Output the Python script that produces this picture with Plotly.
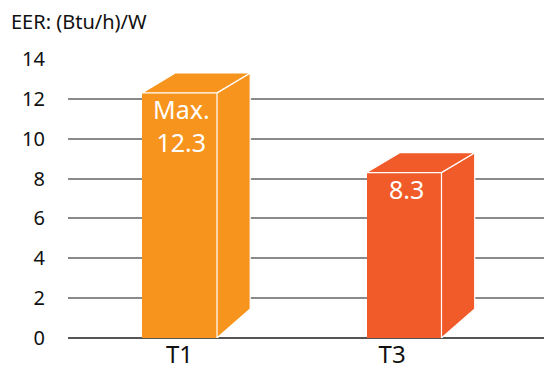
import plotly.graph_objects as go

categories = ["T1", "T3"]
eer_values = [12.3, 8.3]
bar_labels = ["Max.<br>12.3", "8.3"]
bar_colors = ["#F7941D", "#F15A29"]
y_ticks = [0, 2, 4, 6, 8, 10, 12, 14]
y_title = "EER: (Btu/h)/W"

FONT = "Noto Sans, Lato, sans-serif"
positions = list(range(len(categories)))
bar_w = 0.334
dx = 0.148
dy = 1.0
side_bottom = 1.46
tick_shift = [0.0, -0.053]

fig = go.Figure()

for i, (cat, v, col) in enumerate(zip(categories, eer_values, bar_colors)):
    x0 = positions[i] - bar_w / 2
    x1 = positions[i] + bar_w / 2
    # front face
    fig.add_trace(go.Bar(x=[positions[i]], y=[v], width=[bar_w],
                         marker=dict(color=col, line=dict(width=0)),
                         hoverinfo="skip", showlegend=False))
    # side face
    fig.add_trace(go.Scatter(
        x=[x1, x1, x1 + dx, x1 + dx, x1],
        y=[0, v, v + dy, side_bottom, 0],
        fill="toself", fillcolor=col, mode="lines",
        line=dict(color="white", width=1.2),
        hoverinfo="skip", showlegend=False))
    # top face
    fig.add_trace(go.Scatter(
        x=[x0, x0 + dx, x1 + dx, x1, x0],
        y=[v, v + dy, v + dy, v, v],
        fill="toself", fillcolor=col, mode="lines",
        line=dict(color="white", width=1.2),
        hoverinfo="skip", showlegend=False))
    fig.add_annotation(x=positions[i] + 0.01, y=v, text=bar_labels[i],
                       showarrow=False, yanchor="top", yshift=3,
                       font=dict(family=FONT, size=25, color="white"))

fig.add_annotation(xref="paper", yref="paper", x=-59 / 476, y=1 + 38 / 279,
                   xanchor="left", yanchor="middle", text=y_title,
                   showarrow=False,
                   font=dict(family=FONT, size=20, color="#111111"))

fig.update_layout(
    width=544, height=370,
    margin=dict(l=68, r=0, t=59, b=32),
    paper_bgcolor="white", plot_bgcolor="white",
    bargap=0,
    xaxis=dict(range=[-0.4967, 1.6236], showgrid=False, zeroline=False,
               showline=False, ticks="",
               tickvals=[p + s for p, s in zip(positions, tick_shift)],
               ticktext=categories,
               tickfont=dict(family=FONT, size=24, color="#111111")),
    yaxis=dict(range=[0, 14], tickvals=y_ticks, showgrid=True,
               gridcolor="#8a8a8a", gridwidth=1.5, zeroline=True,
               zerolinecolor="#555555", zerolinewidth=1.5, showline=False,
               ticks="", ticklabelstandoff=22,
               tickfont=dict(family=FONT, size=20, color="#111111")),
)

fig.write_html("out.html")
